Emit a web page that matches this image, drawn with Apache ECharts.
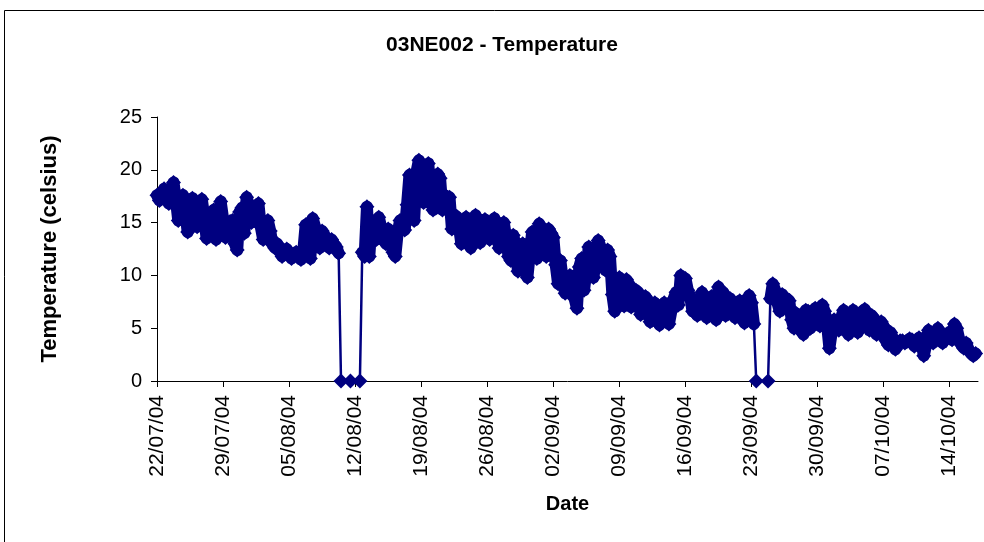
<!DOCTYPE html>
<html>
<head>
<meta charset="utf-8">
<title>03NE002 - Temperature</title>
<script src="https://cdn.jsdelivr.net/npm/echarts@6/dist/echarts.min.js"></script>
<style>
  html, body { margin: 0; padding: 0; background: #fff; }
  #chart { width: 984px; height: 542px; }
</style>
</head>
<body>
<div id="chart"></div>
<script>
// 6-hourly readings (00h, 06h, 12h, 18h) starting 22/07/04, one array per week
// null = no reading (logger gap)
const week1 = [17.6, 17.1, 17.6, 18.2, 18.0, 16.8, 17.8, 18.8, 17.2, 15.2, 16.4, 17.6, 16.0, 14.1, 15.6, 17.3,
  15.8, 14.6, 16.0, 17.2, 15.6, 13.5, 14.1, 14.3, 16.2, 13.4, 15.0, 17.0];
const week2 = [15.4, 13.6, 14.2, 15.1, 15.2, 13.0, 12.4, 16.0, 16.4, 14.0, 17.4, 16.6, 15.0, 15.3, 16.5, 16.8,
  14.6, 13.4, 14.2, 15.2, 14.2, 12.9, 12.6, 13.0, 12.3, 11.8, 12.2, 12.5];
const week3 = [12.0, 11.6, 11.9, 12.2, 12.1, 11.5, 12.3, 14.8, 14.8, 11.6, 15.4, 14.6, 13.6, 12.6, 14.2, 13.8,
  12.9, 12.6, 13.4, 13.0, 12.7, 12.1, 0, null, null, null, 0, null];
const week4 = [null, null, 0, 12.2, 11.8, 16.5, 11.8, 15.2, 14.2, 13.4, 15.5, 14.6, 13.8, 13.0, 14.4, 13.5,
  12.2, 11.8, 14.0, 15.2, 14.6, 14.3, 16.7, 19.5, 17.6, 15.2, 19.8, 20.9];
const week5 = [18.6, 16.9, 19.6, 20.6, 17.6, 16.2, 18.6, 19.6, 19.2, 16.2, 17.6, 17.2, 17.4, 14.4, 15.0, 15.6,
  14.6, 13.0, 14.4, 15.5, 14.8, 12.6, 13.8, 15.7, 14.6, 13.1, 14.3, 15.3];
const week6 = [14.8, 13.4, 14.4, 15.4, 14.4, 12.6, 13.8, 15.0, 13.6, 11.8, 11.4, 13.8, 12.8, 10.4, 11.6, 13.0,
  12.2, 9.8, 12.0, 14.1, 13.0, 11.6, 14.9, 14.2, 13.2, 11.8, 14.4, 14.0];
const week7 = [13.6, 11.0, 9.2, 11.4, 9.6, 8.3, 9.2, 10.0, 9.8, 7.8, 6.9, 10.8, 11.6, 8.6, 10.4, 12.7,
  12.2, 9.8, 11.6, 13.3, 12.7, 11.0, 10.5, 12.4, 11.8, 8.2, 6.6, 9.6];
const week8 = [9.8, 7.7, 7.1, 9.6, 9.2, 7.0, 7.4, 8.6, 8.4, 6.3, 7.0, 8.0, 7.6, 5.6, 6.4, 7.4,
  7.0, 5.3, 6.0, 7.4, 7.0, 5.4, 6.6, 7.8, 8.4, 7.2, 10.0, 9.6];
const week9 = [9.7, 8.6, 8.0, 6.6, 7.2, 6.2, 7.6, 8.4, 7.4, 6.0, 6.6, 8.0, 7.6, 5.8, 8.9, 8.2,
  8.4, 6.2, 7.0, 7.8, 7.4, 6.0, 6.8, 7.6, 7.0, 5.5, 6.0, 8.1];
const week10 = [7.4, 5.4, 0, null, null, null, null, 0, 7.8, 9.2, 8.6, 7.4, 6.6, 8.2, 7.0, 7.8,
  7.6, 5.8, 5.0, 6.4, 6.2, 4.8, 4.4, 6.7, 6.6, 5.0, 5.6, 6.9];
const week11 = [6.0, 5.2, 7.2, 6.6, 5.4, 3.1, 4.6, 5.8, 5.2, 4.8, 6.0, 6.7, 6.2, 4.4, 5.6, 6.7,
  6.0, 4.6, 6.0, 6.6, 6.8, 5.4, 4.8, 6.2, 5.9, 4.4, 4.8, 5.6];
const week12 = [5.2, 3.8, 3.4, 4.6, 4.0, 3.0, 3.4, 3.8, 3.8, 3.6, 3.8, 4.0, 3.9, 3.3, 3.6, 4.1,
  3.8, 2.4, 3.4, 4.8, 4.4, 3.6, 4.2, 5.0, 4.2, 3.6, 4.0, 4.5];
const week13 = [4.6, 3.9, 5.4, 5.0, 4.0, 3.4, 3.1, 3.6, 3.0, 2.6, 2.4, 2.6];

// weekly tick labels (days since 22/07/04)
const tickDays = [0, 7, 14, 21, 28, 35, 42, 49, 56, 63, 70, 77, 84];
const tickLabels = ['22/07/04', '29/07/04', '05/08/04', '12/08/04', '19/08/04', '26/08/04', '02/09/04',
  '09/09/04', '16/09/04', '23/09/04', '30/09/04', '07/10/04', '14/10/04'];

const stepDays = 0.25;
const temps = [].concat(week1, week2, week3, week4, week5, week6, week7, week8, week9, week10, week11, week12, week13);
const seriesData = temps.map((v, i) => [i * stepDays, v === null ? '-' : v]);
// same readings, broken at the zero (failed) readings, drawn thick so the dense trace reads as one band
const bandData = temps.map((v, i) => [i * stepDays, (v === null || v === 0) ? '-' : v]);

const navy = '#000080';
const font = "'Liberation Sans', Arial, sans-serif";
const diamond = 'path://M7,0L14,7L7,14L0,7Z';

const chart = echarts.init(document.getElementById('chart'));
chart.setOption({
  animation: false,
  backgroundColor: '#fff',
  textStyle: { fontFamily: font, color: '#000' },
  title: {
    text: '03NE002 - Temperature',
    left: 497,
    textAlign: 'center',
    top: 30,
    textStyle: { fontFamily: font, fontSize: 21, fontWeight: 'bold', color: '#000' }
  },
  graphic: [{
    type: 'rect',
    z: -1,
    shape: { x: 4.5, y: 10.5, width: 1000, height: 600 },
    style: { fill: 'none', stroke: '#000', lineWidth: 1 }
  }],
  grid: { left: 157, right: 6, top: 117, bottom: 161 },
  xAxis: {
    type: 'value',
    min: 0,
    max: 87,
    interval: 7,
    name: 'Date',
    nameLocation: 'middle',
    nameGap: 113,
    nameTextStyle: { fontFamily: font, fontSize: 20, fontWeight: 'bold', color: '#000' },
    axisLine: { lineStyle: { color: '#000', width: 1 } },
    axisTick: { customValues: tickDays, length: 6, lineStyle: { color: '#000' } },
    axisLabel: {
      customValues: tickDays,
      rotate: 90,
      margin: 14,
      fontSize: 21,
      color: '#000',
      fontFamily: font,
      formatter: v => tickLabels[tickDays.indexOf(v)] || ''
    },
    splitLine: { show: false }
  },
  yAxis: {
    type: 'value',
    min: 0,
    max: 25,
    interval: 5,
    name: 'Temperature (celsius)',
    nameLocation: 'middle',
    nameGap: 96,
    nameTextStyle: { fontFamily: font, fontSize: 22, fontWeight: 'bold', color: '#000' },
    axisLine: { show: true, lineStyle: { color: '#000', width: 1 } },
    axisTick: { show: true, length: 6, lineStyle: { color: '#000' } },
    axisLabel: { margin: 15, fontSize: 20, color: '#000', fontFamily: font },
    splitLine: { show: false }
  },
  series: [{
    type: 'line',
    data: bandData,
    connectNulls: false,
    showSymbol: false,
    lineStyle: { color: navy, width: 12, join: 'round', cap: 'round' },
    emphasis: { disabled: true },
    silent: true
  }, {
    type: 'line',
    data: seriesData,
    connectNulls: true,
    symbol: diamond,
    symbolSize: 15,
    showSymbol: true,
    lineStyle: { color: navy, width: 2.5 },
    itemStyle: { color: navy },
    emphasis: { disabled: true }
  }]
});
</script>
</body>
</html>
